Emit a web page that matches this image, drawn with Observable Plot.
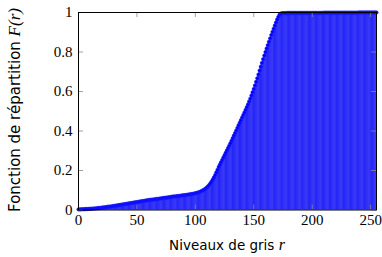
<!DOCTYPE html>
<html><head><meta charset="utf-8">
<script src="https://cdn.jsdelivr.net/npm/d3@7"></script>
<script src="https://cdn.jsdelivr.net/npm/@observablehq/plot@0.6"></script>
<style>body{margin:0;background:#fff} svg{display:block}</style>
</head><body><div id="chart"></div>
<script>
// Cumulative distribution F(r) for gray levels r = 0..255
const cdfValues = [
0.003,0.003,0.003,0.004,0.004,0.004,0.005,0.005,0.005,0.006,
0.006,0.006,0.007,0.007,0.008,0.008,0.009,0.010,0.010,0.011,
0.012,0.013,0.013,0.014,0.015,0.016,0.017,0.017,0.018,0.019,
0.020,0.021,0.022,0.023,0.024,0.025,0.026,0.027,0.028,0.029,
0.030,0.031,0.032,0.033,0.034,0.035,0.036,0.037,0.038,0.039,
0.040,0.041,0.042,0.043,0.044,0.045,0.046,0.047,0.048,0.049,
0.050,0.051,0.052,0.052,0.053,0.054,0.055,0.056,0.056,0.057,
0.058,0.059,0.060,0.061,0.062,0.062,0.063,0.064,0.065,0.066,
0.067,0.068,0.068,0.069,0.070,0.071,0.071,0.072,0.073,0.074,
0.075,0.075,0.076,0.077,0.078,0.079,0.080,0.081,0.082,0.083,
0.085,0.086,0.088,0.090,0.092,0.095,0.098,0.101,0.105,0.110,
0.115,0.121,0.128,0.136,0.145,0.155,0.166,0.178,0.191,0.204,
0.218,0.230,0.242,0.254,0.266,0.278,0.290,0.302,0.314,0.326,
0.338,0.351,0.364,0.377,0.390,0.403,0.416,0.429,0.442,0.455,
0.468,0.481,0.494,0.507,0.520,0.534,0.549,0.564,0.580,0.596,
0.613,0.631,0.649,0.667,0.686,0.706,0.726,0.745,0.764,0.782,
0.800,0.818,0.835,0.852,0.869,0.886,0.902,0.918,0.934,0.950,
0.965,0.978,0.989,0.994,0.996,0.997,0.997,0.997,0.997,0.998,
0.998,0.998,0.998,0.998,0.998,0.998,0.998,0.998,0.998,0.998,
0.998,0.998,0.998,0.998,0.998,0.998,0.998,0.998,0.998,0.998,
0.998,0.998,0.998,0.998,0.998,0.998,0.998,0.998,0.998,0.998,
0.999,0.999,0.999,0.999,0.999,0.999,0.999,0.999,0.999,0.999,
0.999,0.999,0.999,0.999,0.999,0.999,0.999,0.999,0.999,0.999,
0.999,0.999,0.999,0.999,0.999,0.999,0.999,0.999,0.999,0.999,
1.000,1.000,1.000,1.000,1.000,1.000,1.000,1.000,1.000,1.000,
1.000,1.000,1.000,1.000,1.000,1.000
];
const grayLevels = cdfValues.map((_, i) => i);
const xTicks = [0, 50, 100, 150, 200, 250];
const yTicks = [0, 0.2, 0.4, 0.6, 0.8, 1];
const xLabel = "Niveaux de gris ";
const xLabelVar = "r";
const yLabel = "Fonction de répartition ";
const yLabelVar = "F(r)";

const data = grayLevels.map((r, i) => ({r, F: cdfValues[i]}));

const xMin = 0, xMax = 255;
const tickPxX = 5 / ((382 - 78 - 6) / (xMax - xMin));
const tickPxY = 5 / (257 - 12 - 47.5);

const plot = Plot.plot({
  width: 382,
  height: 257,
  marginLeft: 78,
  marginRight: 6,
  marginTop: 12,
  marginBottom: 47.5,
  style: {fontFamily: "'Liberation Serif', serif", fontSize: "15px", background: "#fff", overflow: "visible"},
  x: {domain: [xMin, xMax], ticks: xTicks},
  y: {domain: [0, 1], ticks: yTicks},
  marks: [
    Plot.rectY(data, {x1: d => d.r - 0.5, x2: d => d.r + 0.5, y: "F", fill: "#3535ff", stroke: "#0000e8", strokeWidth: 0.3}),
    Plot.dot(data, {x: "r", y: "F", r: 1.7, fill: "#0000ff", stroke: "#2020ff", strokeWidth: 0.6}),
    Plot.ruleX(xTicks, {x: d => d, y1: 0, y2: tickPxY, stroke: "#8a8a8a", strokeWidth: 0.8}),
    Plot.ruleX(xTicks, {x: d => d, y1: 1 - tickPxY, y2: 1, stroke: "#8a8a8a", strokeWidth: 0.8}),
    Plot.ruleY(yTicks, {y: d => d, x1: xMin, x2: xMin + tickPxX, stroke: "#8a8a8a", strokeWidth: 0.8}),
    Plot.ruleY(yTicks, {y: d => d, x1: xMax - tickPxX, x2: xMax, stroke: "#8a8a8a", strokeWidth: 0.8}),
    Plot.frame({stroke: "#000", strokeWidth: 1}),
    Plot.axisX(xTicks, {tickSize: 0, tickPadding: 4, tickFormat: d => String(d), fontSize: 15, fill: "#000", label: null}),
    Plot.axisY(yTicks, {tickSize: 0, tickPadding: 6, tickFormat: d => String(d), fontSize: 15, fill: "#000", label: null})
  ]
});

const svg = d3.select(plot);
const xl = svg.append("text")
  .attr("x", 227).attr("y", 250)
  .attr("text-anchor", "middle")
  .attr("fill", "#000");
xl.append("tspan").attr("font-family", "'DejaVu Sans', sans-serif").attr("font-size", 13.5).text(xLabel);
xl.append("tspan").attr("font-family", "'Liberation Serif', serif").attr("font-style", "italic").attr("font-size", 16).text(xLabelVar);

const yl = svg.append("text")
  .attr("transform", "translate(20,110) rotate(-90)")
  .attr("text-anchor", "middle")
  .attr("fill", "#000");
yl.append("tspan").attr("font-family", "'DejaVu Sans', sans-serif").attr("font-size", 15).text(yLabel);
yl.append("tspan").attr("font-family", "'Liberation Serif', serif").attr("font-style", "italic").attr("font-size", 17).text(yLabelVar);

document.getElementById("chart").appendChild(plot);
</script>
</body></html>
